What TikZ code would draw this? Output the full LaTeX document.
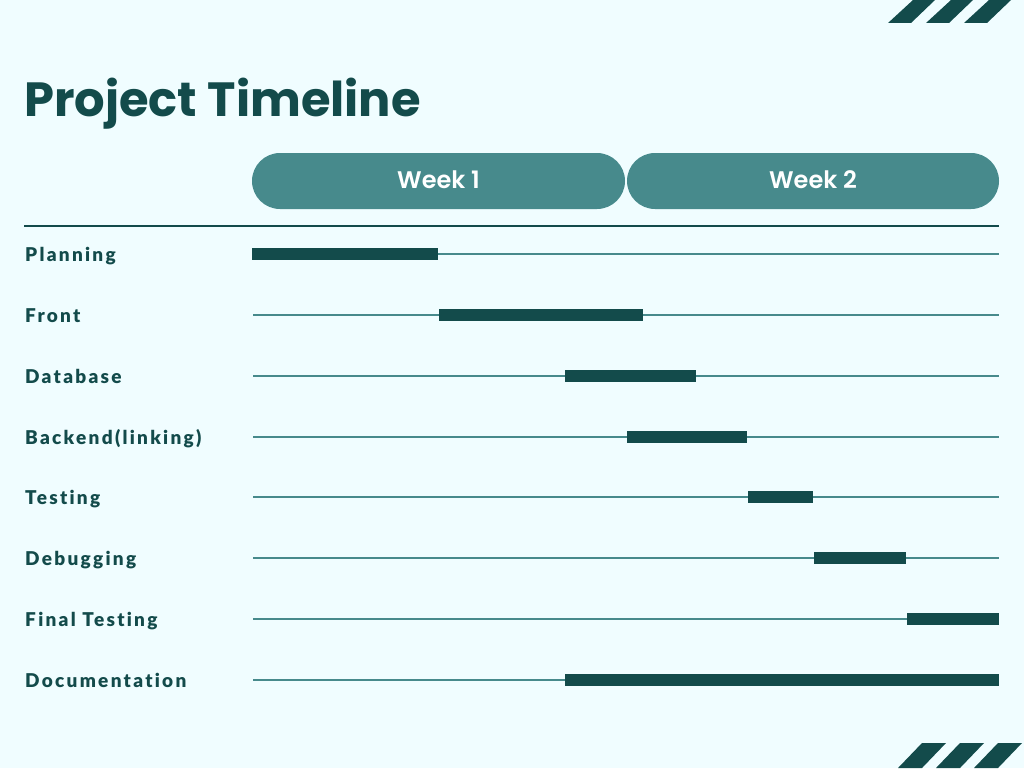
\documentclass[tikz,border=0pt]{standalone}
\usepackage{fontspec}
\setmainfont{Poppins}
\newfontfamily\titlefont{Poppins}[UprightFont=* Bold]
\newfontfamily\weekfont{Poppins}[UprightFont=* SemiBold]
\newfontfamily\labelfont{Lato}[UprightFont=* Black, LetterSpace=12, Ligatures={NoCommon,NoRequired,NoContextual}]
\definecolor{bgc}{HTML}{F0FDFF}
\definecolor{dark}{HTML}{134B4B}
\definecolor{mid}{HTML}{478A8C}
\begin{document}
\begin{tikzpicture}[x=1pt,y=-1pt,
  pill/.style={fill=mid,rounded corners=28pt},
  weektxt/.style={text=white,font=\weekfont\fontsize{24}{28}\selectfont,anchor=base},
  lbl/.style={text=dark,font=\labelfont\fontsize{19}{21}\selectfont,anchor=base west,inner sep=0pt},
  track/.style={draw=mid,line width=2.8pt},
  bar/.style={draw=dark,line width=11.5pt},
  stripe/.style={fill=dark}]
\fill[bgc] (0,0) rectangle (1024,768);
\useasboundingbox (0,0) rectangle (1024,768);
% stripes top
\foreach \d in {0,38,76}{
  \fill[stripe] (888+\d,23) -- (911+\d,23) -- (935+\d,0) -- (913+\d,0) -- cycle;
}
% stripes bottom
\foreach \d in {0,38,76}{
  \fill[stripe] (898+\d,768) -- (922+\d,768) -- (946+\d,743) -- (922+\d,743) -- cycle;
}
% title
\node[text=dark,font=\titlefont\fontsize{48}{54}\selectfont,anchor=base west,inner sep=0pt] (title) at (24,116) {Project Timeline};
% week pills
\fill[pill] (252,153) rectangle (625,209);
\fill[pill] (627,153) rectangle (999,209);
\node[weektxt] (w1) at (438.5,188) {Week 1};
\node[weektxt] (w2) at (813,188) {Week 2};
% header rule
\draw[dark,line width=2pt] (24,226) -- (999,226);
% rows
\foreach \y/\name/\a/\b [count=\i] in {
  254/Planning/252/438,
  315/Front/439/643,
  376/Database/565/696,
  437/Backend(linking)/627/747,
  497/Testing/748/813,
  558/Debugging/814/906,
  619/Final Testing/907/999,
  680/Documentation/565/999}{
  \coordinate (s\i) at (253,\y);
  \coordinate (e\i) at (999,\y);
  \coordinate (ba\i) at (\a,\y);
  \coordinate (bb\i) at (\b,\y);
  \draw[track] (s\i) -- (e\i);
  \draw[bar] (ba\i) -- (bb\i);
  \node[lbl] (l\i) at (25,\y+7) {\name};
}
\end{tikzpicture}
\end{document}
